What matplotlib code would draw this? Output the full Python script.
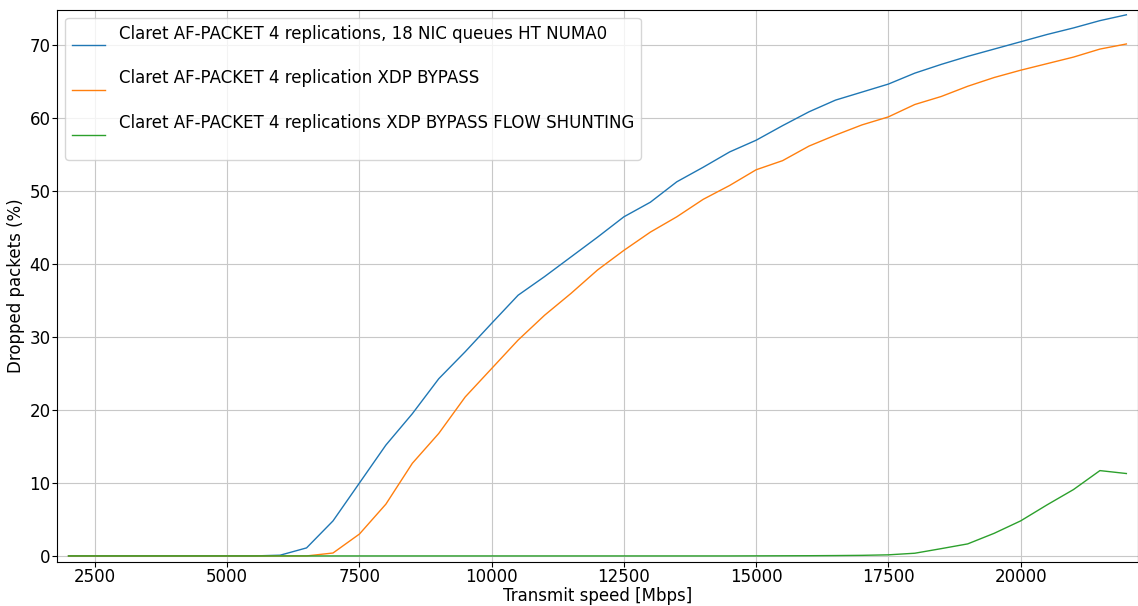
import matplotlib
matplotlib.use('Agg')
import matplotlib.pyplot as plt

# Transmit speed [Mbps]
speeds = list(range(2000, 22001, 500))

# Dropped packets (%)
drops_ht = [0, 0, 0, 0, 0, 0, 0, 0, 0.1, 1.1, 4.8, 10.0, 15.2, 19.5,
            24.3, 28.0, 31.9, 35.75, 38.3, 41.0, 43.7, 46.5, 48.5, 51.3,
            53.3, 55.4, 57.0, 59.0, 60.9, 62.5, 63.6, 64.7, 66.2, 67.4,
            68.5, 69.5, 70.5, 71.5, 72.4, 73.4, 74.2]
drops_xdp = [0, 0, 0, 0, 0, 0, 0, 0, 0, 0, 0.4, 3.0, 7.1, 12.7,
             16.8, 21.8, 25.7, 29.6, 33.0, 36.0, 39.2, 41.9, 44.4, 46.5,
             48.9, 50.8, 52.95, 54.2, 56.2, 57.7, 59.1, 60.2, 61.9, 63.0,
             64.4, 65.6, 66.6, 67.5, 68.4, 69.5, 70.2]
drops_shunt = [0, 0, 0, 0, 0, 0, 0, 0, 0, 0, 0, 0, 0, 0,
               0, 0, 0, 0, 0, 0, 0, 0, 0, 0, 0, 0, 0.01, 0.02, 0.03,
               0.05, 0.08, 0.15, 0.37, 1.0, 1.65, 3.1, 4.8, 7.0, 9.1,
               11.7, 11.3]

labels = ['Claret AF-PACKET 4 replications, 18 NIC queues HT NUMA0',
          'Claret AF-PACKET 4 replication XDP BYPASS',
          'Claret AF-PACKET 4 replications XDP BYPASS FLOW SHUNTING']

plt.rcParams['font.size'] = 12

fig = plt.figure(figsize=(11.38, 6.06), dpi=100)
ax = fig.add_axes([0.050, 0.073, 0.95, 0.911])

ax.plot(speeds, drops_ht, linewidth=1, label=labels[0] + '\n')
ax.plot(speeds, drops_xdp, linewidth=1, label=labels[1] + '\n')
ax.plot(speeds, drops_shunt, linewidth=1, label=labels[2] + '\n')

ax.set_xlim(1780, 22220)
ax.set_ylim(-0.8, 74.9)
ax.set_xticks([2500, 5000, 7500, 10000, 12500, 15000, 17500, 20000])
ax.tick_params(pad=1)
ax.set_xlabel('Transmit speed [Mbps]', labelpad=1)
ax.set_ylabel('Dropped packets (%)', labelpad=3)
ax.grid(True, color='#c8c8c8')
ax.legend(loc='upper left', labelspacing=0.36)

fig.savefig('out.png', dpi=100)
